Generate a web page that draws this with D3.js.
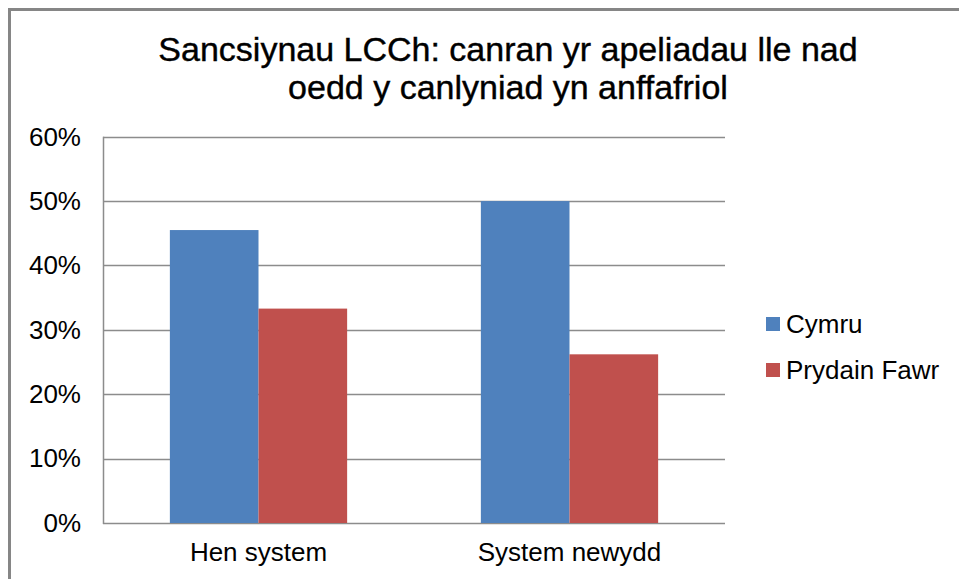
<!DOCTYPE html>
<html><head><meta charset="utf-8">
<script src="https://cdn.jsdelivr.net/npm/d3@7"></script>
<style>body{margin:0;background:#fff}svg{display:block}text{font-family:"Liberation Sans",Arial,sans-serif;fill:#000}</style>
</head><body><svg id="c" width="959" height="579"></svg>
<script>
const categories = ["Hen system", "System newydd"];
const seriesNames = ["Cymru", "Prydain Fawr"];
const cymru = [0.455, 0.50];
const prydainFawr = [0.333, 0.262];
const yTicks = [0, 0.1, 0.2, 0.3, 0.4, 0.5, 0.6];
const titleLines = ["Sancsiynau LCCh: canran yr apeliadau lle nad", "oedd y canlyniad yn anffafriol"];
const colors = ["#4F81BD", "#C0504D"];

const svg = d3.select("#c");
// outer frame
svg.append("rect").attr("x", 9.5).attr("y", 9.5).attr("width", 1100).attr("height", 1000)
  .attr("fill", "#fff").attr("stroke", "#868686").attr("stroke-width", 3);

const L = 103, R = 725, T = 136.7, B = 523;
const x0 = d3.scaleBand().domain(categories).range([L, R]).paddingInner(0.43).paddingOuter(0.215);
const x1 = d3.scaleBand().domain(seriesNames).range([0, x0.bandwidth()]);
const y = d3.scaleLinear().domain([0, 0.6]).range([B, T]);

// grid
svg.append("g").selectAll("line").data(yTicks).join("line")
  .attr("x1", L).attr("x2", R).attr("y1", d => Math.round(y(d)) + 0.5).attr("y2", d => Math.round(y(d)) + 0.5)
  .attr("stroke", "#8c8c8c").attr("stroke-width", 1.5);

// bars
const data = categories.map((c, i) => ({c, vals: [cymru[i], prydainFawr[i]]}));
const g = svg.append("g").selectAll("g").data(data).join("g").attr("transform", d => `translate(${x0(d.c)},0)`);
g.selectAll("rect").data(d => d.vals.map((v, j) => ({v, s: seriesNames[j], j}))).join("rect")
  .attr("x", d => x1(d.s)).attr("width", x1.bandwidth())
  .attr("y", d => y(d.v)).attr("height", d => B - y(d.v))
  .attr("fill", d => colors[d.j]);

// axes lines
svg.append("line").attr("x1", L + 0.5).attr("x2", L + 0.5).attr("y1", T).attr("y2", B + 1).attr("stroke", "#8c8c8c").attr("stroke-width", 1.5);

// y labels
const yAxis = d3.axisLeft(y).tickValues(yTicks).tickFormat(d3.format(".0%")).tickSize(0).tickPadding(22);
const ya = svg.append("g").attr("transform", `translate(${L},0)`).call(yAxis);
ya.select(".domain").remove();
ya.selectAll("text").attr("font-size", 26).attr("font-family", "Liberation Sans, Arial, sans-serif").attr("fill", "#000");

// x labels
const xAxis = d3.axisBottom(x0).tickSize(0).tickPadding(20);
const xa = svg.append("g").attr("transform", `translate(0,${B})`).call(xAxis);
xa.select(".domain").remove();
xa.selectAll("text").attr("font-size", 26).attr("font-family", "Liberation Sans, Arial, sans-serif").attr("fill", "#000");

// title
svg.append("g").selectAll("text").data(titleLines).join("text")
  .attr("x", 508).attr("y", (d, i) => 61 + i * 38).attr("text-anchor", "middle")
  .attr("font-size", 34).attr("font-weight", "normal").attr("stroke", "#000").attr("stroke-width", 0.4).text(d => d);

// legend
const lg = svg.append("g").selectAll("g").data(seriesNames).join("g")
  .attr("transform", (d, i) => `translate(766,${324 + i * 46})`);
lg.append("rect").attr("x", 0).attr("y", -7).attr("width", 14).attr("height", 14).attr("fill", (d, i) => colors[i]);
lg.append("text").attr("x", 20).attr("y", 9).attr("font-size", 26).text(d => d);
</script></body></html>
